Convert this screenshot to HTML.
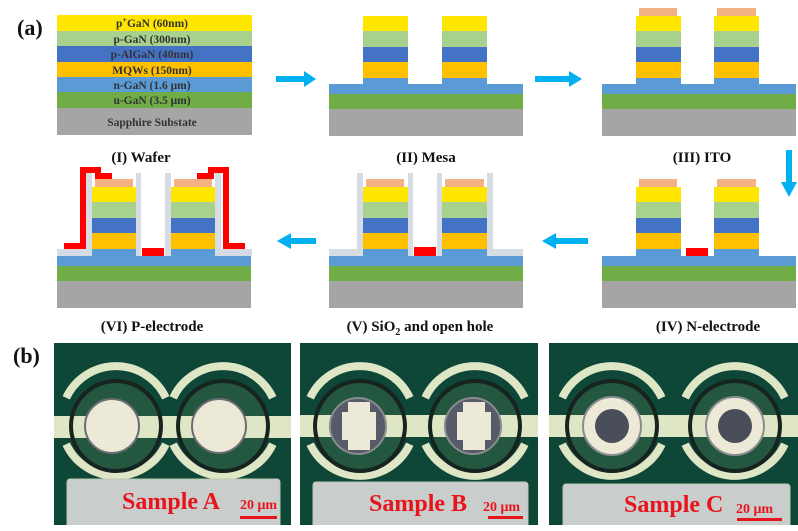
<!DOCTYPE html>
<html><head><meta charset="utf-8"><style>
html,body{margin:0;padding:0;background:#fff;}
svg{display:block;}
text{font-family:"Liberation Serif",serif;font-weight:bold;}
</style></head><body>
<svg width="798" height="531" viewBox="0 0 798 531" xmlns="http://www.w3.org/2000/svg">
<defs>
<g id="arcs">
 <path d="M-49.8,-23.2 A55,55 0 0 1 49.8,-23.2" fill="none" stroke="#dfe6c6" stroke-width="8"/>
 <path d="M-49.8,23.2 A55,55 0 0 0 49.8,23.2" fill="none" stroke="#dfe6c6" stroke-width="8"/>
</g>
<g id="ringfill"><circle r="45" fill="#24573f"/></g>
<g id="ring"><circle r="45" fill="none" stroke="#16231f" stroke-width="4"/></g>
<g id="pillar">
 <rect x="0" y="0" width="45" height="15" fill="#ffe600"/>
 <rect x="0" y="15" width="45" height="16" fill="#a9d18e"/>
 <rect x="0" y="31" width="45" height="15" fill="#4472c4"/>
 <rect x="0" y="46" width="45" height="16" fill="#ffc000"/>
 <rect x="0" y="62" width="45" height="7" fill="#5b9bd5"/>
</g>
<g id="base">
 <rect x="0" y="0" width="194" height="10" fill="#5b9bd5"/>
 <rect x="0" y="10" width="194" height="15" fill="#70ad47"/>
 <rect x="0" y="25" width="194" height="27" fill="#a5a5a5"/>
</g>
<clipPath id="cA"><rect x="54" y="343" width="237" height="182"/></clipPath>
<clipPath id="cB"><rect x="300" y="343" width="238" height="182"/></clipPath>
<clipPath id="cC"><rect x="549" y="343" width="249" height="182"/></clipPath>
</defs>

<text x="17" y="35" font-size="22" fill="#111">(a)</text>
<text x="13" y="363" font-size="22" fill="#111">(b)</text>

<!-- Panel I -->
<rect x="57" y="15" width="195" height="16" fill="#ffe600"/>
<rect x="57" y="31" width="195" height="15" fill="#a9d18e"/>
<rect x="57" y="46" width="195" height="16" fill="#4472c4"/>
<rect x="57" y="62" width="195" height="15" fill="#ffc000"/>
<rect x="57" y="77" width="195" height="15" fill="#5b9bd5"/>
<rect x="57" y="92" width="195" height="16" fill="#70ad47"/>
<rect x="57" y="108" width="195" height="27" fill="#a5a5a5"/>
<g font-size="11.5" fill="#333" text-anchor="middle">
<text x="152" y="27">p<tspan font-size="8" dy="-4">+</tspan><tspan dy="4">GaN (60nm)</tspan></text>
<text x="152" y="43">p-GaN (300nm)</text>
<text x="152" y="58">p-AlGaN (40nm)</text>
<text x="152" y="74">MQWs (150nm)</text>
<text x="152" y="89">n-GaN (1.6 μm)</text>
<text x="152" y="104">u-GaN (3.5 μm)</text>
<text x="152" y="126">Sapphire Substate</text>
</g>

<!-- Panel II -->
<use href="#base" x="329" y="84"/>
<use href="#pillar" x="363" y="16"/>
<use href="#pillar" x="442" y="16"/>
<!-- Panel III -->
<use href="#base" x="602" y="84"/>
<use href="#pillar" x="636" y="16"/>
<use href="#pillar" x="714" y="16"/>
<rect x="639" y="8" width="38" height="8" fill="#f4b183"/>
<rect x="717" y="8" width="39" height="8" fill="#f4b183"/>

<!-- Panel IV -->
<use href="#base" x="602" y="256"/>
<use href="#pillar" x="636" y="187"/>
<use href="#pillar" x="714" y="187"/>
<rect x="639" y="179" width="38" height="8" fill="#f4b183"/>
<rect x="717" y="179" width="39" height="8" fill="#f4b183"/>
<rect x="686" y="248" width="22" height="8" fill="#ff0000"/>

<!-- Panel V -->
<use href="#base" x="329" y="256"/>
<use href="#pillar" x="363" y="187"/>
<use href="#pillar" x="442" y="187"/>
<rect x="366" y="179" width="38" height="8" fill="#f4b183"/>
<rect x="445" y="179" width="39" height="8" fill="#f4b183"/>
<g fill="#d6dce4">
<rect x="357" y="173" width="6" height="83"/><rect x="329" y="249" width="34" height="7"/>
<rect x="408" y="173" width="5" height="83"/><rect x="437" y="173" width="5" height="83"/>
<rect x="487" y="173" width="6" height="83"/><rect x="487" y="249" width="36" height="7"/>
</g>
<rect x="414" y="247" width="22" height="9" fill="#ff0000"/>

<!-- Panel VI -->
<use href="#base" x="57" y="256"/>
<use href="#pillar" x="92" y="187"/>
<use href="#pillar" x="171" y="187"/>
<rect x="95" y="179" width="38" height="8" fill="#f4b183"/>
<rect x="174" y="179" width="38" height="8" fill="#f4b183"/>
<g fill="#d6dce4">
<rect x="86" y="173" width="6" height="83"/><rect x="57" y="249" width="35" height="7"/>
<rect x="136" y="173" width="5" height="83"/><rect x="165" y="173" width="6" height="83"/>
<rect x="215" y="173" width="6" height="83"/><rect x="215" y="249" width="37" height="7"/>
</g>
<rect x="142" y="248" width="22" height="8" fill="#ff0000"/>
<path d="M64,246 H83 V170 H98 V176 H112" fill="none" stroke="#ff0000" stroke-width="6"/>
<path d="M245,246 H226 V170 H211 V176 H197" fill="none" stroke="#ff0000" stroke-width="6"/>

<!-- arrows -->
<g fill="#00b0f0">
<rect x="276" y="76" width="30" height="6"/><polygon points="304,71 316,79 304,87"/>
<rect x="535" y="76" width="36" height="6"/><polygon points="569,71 582,79 569,87"/>
<rect x="786" y="150" width="6" height="34"/><polygon points="781,182 797,182 789,197"/>
<rect x="554" y="238" width="34" height="6"/><polygon points="556,233 542,241 556,249"/>
<rect x="290" y="238" width="26" height="6"/><polygon points="291,233 277,241 291,249"/>
</g>

<g font-size="15" fill="#111" text-anchor="middle">
<text x="141" y="162">(I) Wafer</text>
<text x="426" y="162">(II) Mesa</text>
<text x="702" y="162">(III) ITO</text>
<text x="152" y="331">(VI) P-electrode</text>
<text x="420" y="331">(V) SiO<tspan font-size="10" dy="4">2</tspan><tspan dy="-4"> and open hole</tspan></text>
<text x="708" y="331">(IV) N-electrode</text>
</g>

<!-- Photo A -->
<g clip-path="url(#cA)">
<rect x="54" y="343" width="237" height="182" fill="#0e4637"/>
<use href="#ringfill" x="116" y="426"/><use href="#ringfill" x="223" y="426"/>
<rect x="54" y="416" width="237" height="22" fill="#dfe6c6"/>
<use href="#arcs" x="116" y="421"/><use href="#arcs" x="223" y="421"/>
<use href="#ring" x="116" y="426"/><use href="#ring" x="223" y="426"/>
<circle cx="112" cy="426" r="27" fill="#ece9d6" stroke="#6c6c72" stroke-width="2"/>
<circle cx="219" cy="426" r="27" fill="#ece9d6" stroke="#6c6c72" stroke-width="2"/>
<rect x="67" y="479" width="213" height="50" rx="3" fill="#c9cecd" stroke="#b9c9b0"/>
<text x="122" y="509" font-size="24" fill="#e8141c">Sample A</text>
<text x="240" y="509" font-size="14" fill="#e8141c">20 μm</text>
<rect x="240" y="516" width="37" height="3" fill="#e8141c"/>
</g>

<!-- Photo B -->
<g clip-path="url(#cB)">
<rect x="300" y="343" width="238" height="182" fill="#0e4637"/>
<use href="#ringfill" x="360" y="426"/><use href="#ringfill" x="475" y="426"/>
<rect x="300" y="415" width="238" height="22" fill="#dfe6c6"/>
<use href="#arcs" x="360" y="421"/><use href="#arcs" x="475" y="421"/>
<use href="#ring" x="360" y="426"/><use href="#ring" x="475" y="426"/>
<circle cx="358" cy="426" r="28" fill="#555b68" stroke="#8a8c90" stroke-width="2"/>
<circle cx="473" cy="426" r="28" fill="#555b68" stroke="#8a8c90" stroke-width="2"/>
<g fill="#ece9d6">
<rect x="342" y="412" width="34" height="28"/><rect x="348" y="402" width="22" height="48"/>
<rect x="457" y="412" width="34" height="28"/><rect x="463" y="402" width="22" height="48"/>
</g>
<rect x="313" y="482" width="215" height="50" rx="3" fill="#c9cecd" stroke="#b9c9b0"/>
<text x="369" y="511" font-size="24" fill="#e8141c">Sample B</text>
<text x="483" y="511" font-size="14" fill="#e8141c">20 μm</text>
<rect x="488" y="516" width="35" height="3" fill="#e8141c"/>
</g>

<!-- Photo C -->
<g clip-path="url(#cC)">
<rect x="549" y="343" width="249" height="182" fill="#0e4637"/>
<use href="#ringfill" x="612" y="426"/><use href="#ringfill" x="735" y="426"/>
<rect x="549" y="415" width="249" height="22" fill="#dfe6c6"/>
<use href="#arcs" x="612" y="421"/><use href="#arcs" x="735" y="421"/>
<use href="#ring" x="612" y="426"/><use href="#ring" x="735" y="426"/>
<circle cx="612" cy="426" r="29" fill="#ece9d6" stroke="#8a8c90" stroke-width="2"/>
<circle cx="735" cy="426" r="29" fill="#ece9d6" stroke="#8a8c90" stroke-width="2"/>
<circle cx="612" cy="426" r="17" fill="#4a4d5a"/>
<circle cx="735" cy="426" r="17" fill="#4a4d5a"/>
<rect x="563" y="484" width="227" height="50" rx="3" fill="#c9cecd" stroke="#b9c9b0"/>
<text x="624" y="512" font-size="24" fill="#e8141c">Sample C</text>
<text x="736" y="513" font-size="14" fill="#e8141c">20 μm</text>
<rect x="737" y="518" width="45" height="3" fill="#e8141c"/>
</g>
</svg>
</body></html>
